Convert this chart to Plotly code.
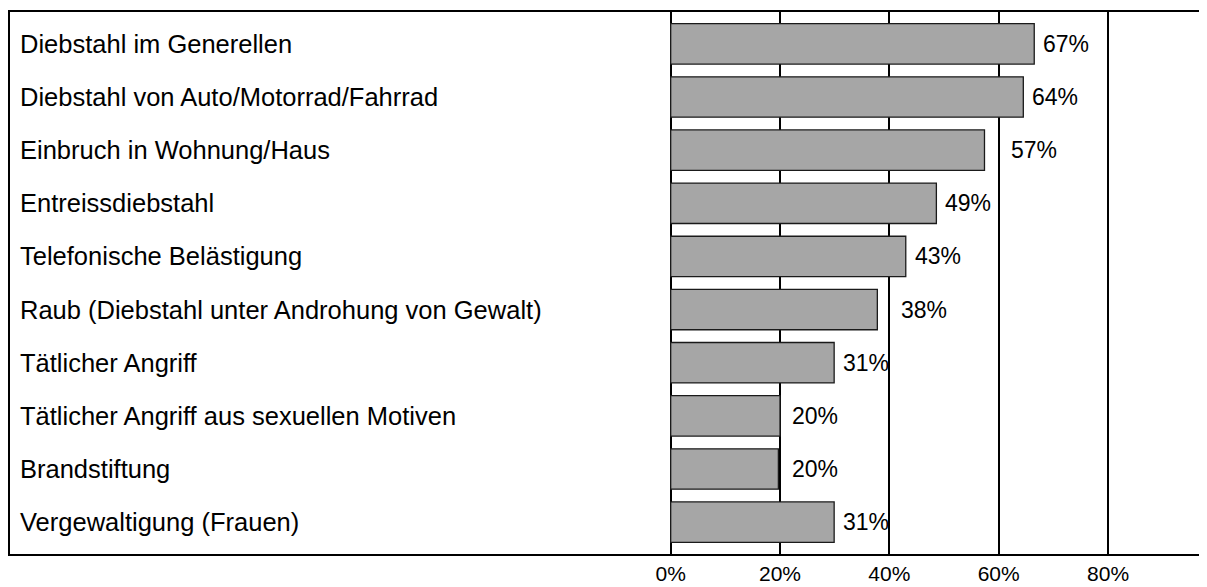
import plotly.graph_objects as go

categories = [
    "Diebstahl im Generellen",
    "Diebstahl von Auto/Motorrad/Fahrrad",
    "Einbruch in Wohnung/Haus",
    "Entreissdiebstahl",
    "Telefonische Belästigung",
    "Raub (Diebstahl unter Androhung von Gewalt)",
    "Tätlicher Angriff",
    "Tätlicher Angriff aus sexuellen Motiven",
    "Brandstiftung",
    "Vergewaltigung (Frauen)",
]
values = [66.5, 64.5, 57.4, 48.6, 43.0, 37.8, 29.9, 20.0, 19.7, 29.9]
value_labels = ["67%", "64%", "57%", "49%", "43%", "38%", "31%", "20%", "20%", "31%"]
tick_values = [0, 20, 40, 60, 80]
tick_labels = ["0%", "20%", "40%", "60%", "80%"]

FONT = "Liberation Sans, Arial, sans-serif"

X_RANGE = [-120.85, 98.1]
PLOT_W_PX = 1197
PX_PER_UNIT = PLOT_W_PX / (X_RANGE[1] - X_RANGE[0])
LABEL_W_PX = 48
GAP_PX = 7
GRID_GAP_PX = 10

fig = go.Figure()
fig.add_trace(go.Bar(
    x=values,
    y=categories,
    orientation="h",
    width=0.76,
    marker=dict(color="#a6a6a6", line=dict(color="#1a1a1a", width=1.3)),
    hoverinfo="skip",
))

annotations = []
for cat, val, lab in zip(categories, values, value_labels):
    # keep value labels clear of the vertical gridlines
    anchor, shift = val, GAP_PX
    end = val + (GAP_PX + LABEL_W_PX) / PX_PER_UNIT
    for g in tick_values:
        if val - 0.5 <= g <= end:
            anchor, shift = g, GRID_GAP_PX
    annotations.append(dict(
        x=anchor, y=cat, xref="x", yref="y", text=lab, showarrow=False,
        xanchor="left", yanchor="middle", xshift=shift,
        font=dict(family=FONT, size=23, color="black"),
    ))
    annotations.append(dict(
        x=0, y=cat, xref="paper", yref="y", text=cat, showarrow=False,
        xanchor="left", yanchor="middle", xshift=8,
        font=dict(family=FONT, size=25.5, color="black"),
    ))

fig.update_layout(
    width=1199, height=579,
    margin=dict(l=2, r=0, t=4, b=33),
    paper_bgcolor="white", plot_bgcolor="white",
    showlegend=False,
    annotations=annotations,
    font=dict(family=FONT, size=23, color="black"),
)
fig.update_xaxes(
    range=X_RANGE,
    tickvals=tick_values, ticktext=tick_labels,
    showgrid=True, gridcolor="black", gridwidth=2,
    zeroline=False,
    showline=True, linecolor="black", linewidth=2, mirror=True,
    ticks="", 
    tickfont=dict(family=FONT, size=21, color="black"),
    automargin=False, fixedrange=True,
)
fig.update_yaxes(
    categoryorder="array", categoryarray=categories,
    range=[9.6, -0.6],
    showticklabels=False, showgrid=False, zeroline=False,
    showline=True, linecolor="black", linewidth=2, mirror=False,
    automargin=False, fixedrange=True,
)

fig.write_html("out.html")
